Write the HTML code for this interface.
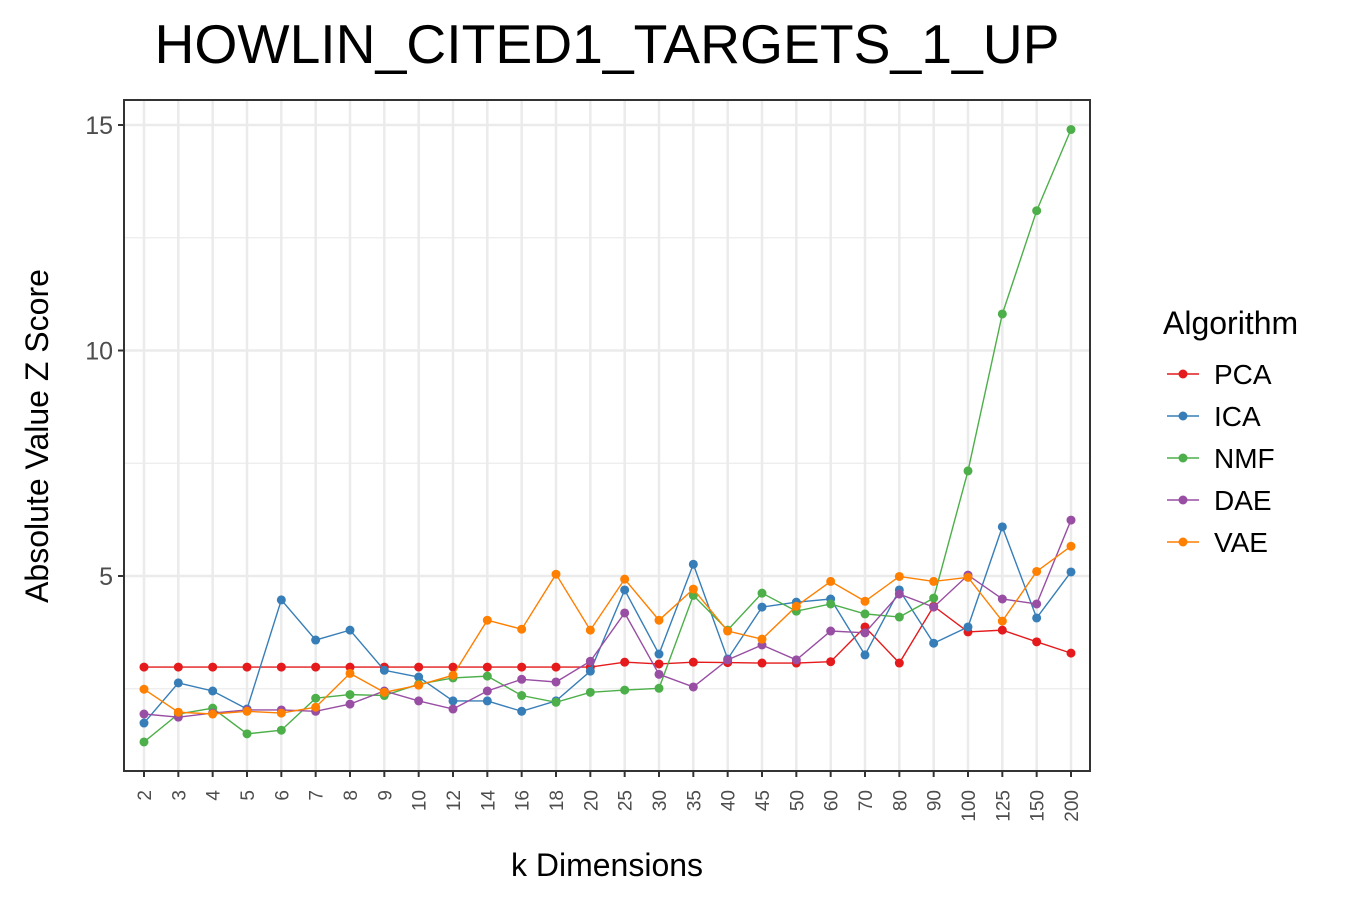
<!DOCTYPE html>
<html><head><meta charset="utf-8"><style>
body{margin:0;background:#fff;font-family:"Liberation Sans",sans-serif}
</style></head><body>
<svg id="c" width="1350" height="900" xmlns="http://www.w3.org/2000/svg" font-family="Liberation Sans, sans-serif"></svg>
<script>
const categories=["2","3","4","5","6","7","8","9","10","12","14","16","18","20","25","30","35","40","45","50","60","70","80","90","100","125","150","200"];
const pca=[2.98,2.98,2.98,2.98,2.98,2.98,2.98,2.98,2.98,2.98,2.98,2.98,2.98,2.98,3.09,3.05,3.09,3.08,3.07,3.07,3.1,3.87,3.07,4.33,3.76,3.8,3.54,3.29];
const ica=[1.74,2.63,2.45,2.05,4.47,3.58,3.8,2.91,2.76,2.23,2.23,2.0,2.23,2.89,4.69,3.27,5.26,3.16,4.31,4.42,4.49,3.25,4.69,3.51,3.87,6.09,4.07,5.09];
const nmf=[1.32,1.94,2.07,1.5,1.58,2.29,2.37,2.35,2.6,2.74,2.78,2.35,2.2,2.42,2.47,2.51,4.57,3.8,4.62,4.22,4.38,4.16,4.09,4.51,7.33,10.81,13.1,14.9];
const dae=[1.94,1.87,1.96,2.03,2.03,2.0,2.16,2.45,2.23,2.05,2.45,2.71,2.65,3.11,4.18,2.82,2.54,3.14,3.47,3.14,3.78,3.74,4.6,4.31,5.02,4.49,4.38,6.24];
const vae=[2.49,1.98,1.94,2.0,1.96,2.09,2.84,2.42,2.58,2.8,4.02,3.82,5.04,3.8,4.93,4.02,4.71,3.78,3.6,4.33,4.88,4.44,4.99,4.88,4.97,4.0,5.1,5.66];
const yTicks=[5,10,15];
const yMinor=[2.5,7.5,12.5];
const seriesNames=["PCA","ICA","NMF","DAE","VAE"];
const seriesData=[pca,ica,nmf,dae,vae];
const colors=["#E41A1C","#377EB8","#4DAF4A","#984EA3","#FF7F00"];

const svg=document.getElementById('c');const NS="http://www.w3.org/2000/svg";
function mk(t,a,p){const e=document.createElementNS(NS,t);for(const k in a)e.setAttribute(k,a[k]);(p||svg).appendChild(e);return e;}
const L=124,R=1090,T=100,B=771;
const x=i=>144+i*(1071-144)/(categories.length-1);
const y=v=>801.5-v*45.1;
const grid=mk('g',{});


yMinor.forEach(v=>mk('line',{x1:L,x2:R,y1:y(v),y2:y(v),stroke:'#ebebeb','stroke-width':1.2},grid));
yTicks.forEach(v=>mk('line',{x1:L,x2:R,y1:y(v),y2:y(v),stroke:'#ebebeb','stroke-width':2.5},grid));
categories.forEach((c,i)=>mk('line',{x1:x(i),x2:x(i),y1:T,y2:B,stroke:'#ebebeb','stroke-width':2.5},grid));
seriesData.forEach((d,s)=>{
 const g=mk('g',{});
 
 
 mk('polyline',{points:d.map((v,i)=>x(i)+','+y(v)).join(' '),fill:'none',stroke:colors[s],'stroke-width':1.4},g);
 d.forEach((v,i)=>{const p=mk('circle',{cx:x(i),cy:y(v),r:4.5,fill:colors[s]},g);
 
 });
});
const fr=mk('rect',{x:L,y:T,width:R-L,height:B-T,fill:'none',stroke:'#333','stroke-width':2});


yTicks.forEach(v=>{mk('line',{x1:L-6,x2:L,y1:y(v),y2:y(v),stroke:'#333','stroke-width':2});
 const t=mk('text',{x:L-11,y:y(v)+9,'text-anchor':'end','font-size':25,fill:'#4d4d4d'});t.textContent=v;
 
 });
categories.forEach((c,i)=>{mk('line',{x1:x(i),x2:x(i),y1:B,y2:B+6,stroke:'#333','stroke-width':2});
 const t=mk('text',{x:0,y:0,'text-anchor':'end','font-size':19,fill:'#4d4d4d',transform:`translate(${x(i)+7},${B+19}) rotate(-90)`});t.textContent=c;
 
 });
let t=mk('text',{x:607,y:63,'text-anchor':'middle','font-size':55,fill:'#000',textLength:905,lengthAdjust:'spacingAndGlyphs'});t.textContent='HOWLIN_CITED1_TARGETS_1_UP';


t=mk('text',{x:607,y:876,'text-anchor':'middle','font-size':32,fill:'#000'});t.textContent='k Dimensions';


t=mk('text',{x:0,y:0,'text-anchor':'middle','font-size':32,fill:'#000',transform:'translate(48,436) rotate(-90)'});t.textContent='Absolute Value Z Score';


t=mk('text',{x:1163,y:334,'font-size':32,fill:'#000'});t.textContent='Algorithm';


seriesNames.forEach((n,s)=>{const g=mk('g',{});
 
 
 const yy=374+s*42;
 mk('line',{x1:1167,x2:1199,y1:yy,y2:yy,stroke:colors[s],'stroke-width':1.4},g);
 mk('circle',{cx:1183,cy:yy,r:4.5,fill:colors[s]},g);
 const tt=mk('text',{x:1214,y:yy+10,'font-size':28,fill:'#000'},g);tt.textContent=n;});
</script>
</body></html>
